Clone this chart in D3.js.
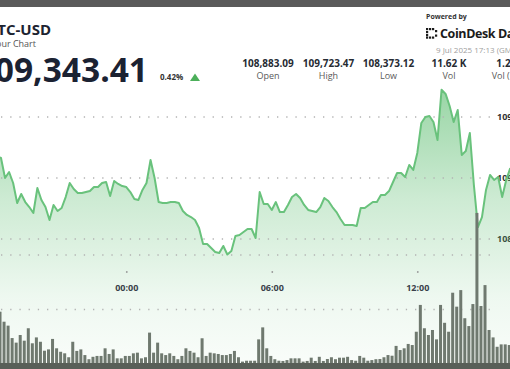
<!DOCTYPE html>
<html><head><meta charset="utf-8">
<script src="https://cdn.jsdelivr.net/npm/d3@7"></script>
<style>
body{margin:0;background:#fff;}
svg{display:block;font-family:'Open Sans',sans-serif;}
</style>
</head><body>
<svg id="c" width="510" height="369"></svg>
<script>
// ---------- data ----------
const startTime = Date.UTC(2025, 6, 8, 18, 40); // first sample (10-minute steps)
const stepMinutes = 10;
const prices = [
  109180,
  109164,109000,109049,108959,108795,108869,108803,108762,108713,108918,
  108820,108762,108656,108779,108730,108754,108844,108959,108910,108877,
  108877,108885,108893,108926,108926,108959,108967,108852,108975,108951,
  108934,108926,108885,108828,108820,108902,108959,109148,109000,108803,
  108795,108795,108803,108803,108795,108730,108697,108680,108656,108590,
  108459,108459,108426,108393,108385,108443,108373,108402,108525,108533,
  108557,108582,108582,108508,108885,108787,108787,108738,108803,108721,
  108721,108779,108844,108869,108836,108779,108738,108730,108721,108762,
  108836,108811,108762,108721,108664,108615,108615,108615,108607,108754,
  108754,108779,108803,108803,108861,108861,108893,108967,109041,109041,
  109008,109107,109066,109205,109451,109500,109508,109459,109311,109723,
  109689,109590,109459,109557,109189,109221,109369,108943,108598,108680,
  108902,109025,108984,109008,108844,108984,109082
];
const volumes = [
  210,
  240,194,176,119,98,133,107,164,95,122,
  102,61,67,115,72,56,49,31,102,60,
  67,41,22,33,37,37,72,46,67,26,
  26,37,37,49,52,26,31,144,52,98,
  49,41,49,37,22,37,72,60,52,31,
  118,37,52,49,46,41,41,46,60,31,
  11,15,15,15,113,168,72,37,22,15,
  14,18,26,26,26,11,14,29,14,33,
  14,23,31,22,29,29,33,18,15,37,
  29,15,18,22,23,31,41,38,83,64,
  72,92,87,148,271,164,133,156,113,271,
  189,148,327,263,339,210,174,275,693,266,
  362,156,122,79,90,90,87
];
const priceTicks = [108500, 109000, 109500];
const volumeTicks = [250, 500];
const timeTicks = ["2025-07-09T00:00:00Z", "2025-07-09T06:00:00Z", "2025-07-09T12:00:00Z"];
const statValues = ["108,883.09", "109,723.47", "108,373.12", "11.62 K", "1.27 B"];
const statLabels = ["Open", "High", "Low", "Vol", "Vol (USD)"];
const symbol = "BTC-USD";
const subtitle = "24 Hour Chart";
const lastPrice = "109,343.41";
const changePct = "0.42%";
const stamp = "9 Jul 2025 17:13 (GMT)";

// ---------- setup ----------
const svg = d3.select("#c");
const W = 510, H = 369;
const rows = prices.map((p, i) => ({
  t: new Date(startTime + i * stepMinutes * 60000), p, v: volumes[i]
}));

const x = d3.scaleUtc()
  .domain([new Date(timeTicks[0]), new Date(timeTicks[2])])
  .range([126.3, 417.3]);
const y = d3.scaleLinear().domain([108500, 109500]).range([239, 117]);
const yv = d3.scaleLinear().domain([0, 500]).range([364, 255]);

const defs = svg.append("defs");
const grad = defs.append("linearGradient").attr("id", "ag")
  .attr("gradientUnits", "userSpaceOnUse").attr("x1", 0).attr("x2", 0).attr("y1", 85).attr("y2", 369);
[[0, 0.62], [0.4, 0.3], [0.75, 0.1], [1, 0.03]].forEach(([o, a]) =>
  grad.append("stop").attr("offset", o).attr("stop-color", "#58bb6c").attr("stop-opacity", a));

// top band
svg.append("rect").attr("x", 0).attr("y", 0).attr("width", W).attr("height", 7).attr("fill", "#5a5a5a");

// header
svg.append("text").attr("x", 51).attr("y", 35).attr("text-anchor", "end")
  .attr("font-size", 15).attr("font-weight", 700).attr("fill", "#1d2330").text(symbol);
svg.append("text").attr("x", 36).attr("y", 46.5).attr("text-anchor", "end")
  .attr("font-size", 9).attr("fill", "#555").text(subtitle);
svg.append("text").attr("x", 148).attr("y", 81.5).attr("text-anchor", "end")
  .attr("font-size", 33.5).attr("font-weight", 700).attr("fill", "#1b2232").text(lastPrice);
svg.append("text").attr("x", 160).attr("y", 80).attr("font-size", 8)
  .attr("font-weight", 700).attr("fill", "#333").text(changePct);
svg.append("path").attr("d", "M190,81 L195,73.5 L200,81 Z").attr("fill", "#4caf5a");

const statX = [268, 328.5, 388.5, 449, 511];
statValues.forEach((s, i) => {
  svg.append("text").attr("x", statX[i]).attr("y", 66.5).attr("text-anchor", "middle")
    .attr("font-size", 10).attr("font-weight", 700).attr("fill", "#262b33").text(s);
  svg.append("text").attr("x", statX[i]).attr("y", 79).attr("text-anchor", "middle")
    .attr("font-size", 9).attr("fill", "#5a5a5a").text(statLabels[i]);
});

svg.append("text").attr("x", 426).attr("y", 19).attr("font-size", 7)
  .attr("font-weight", 700).attr("fill", "#333").text("Powered by");
// CoinDesk icon
const ic = svg.append("g").attr("fill", "#1b1b1b");
[[426,28],[426,31],[426,34],[426,36.5],[429,28],[432,28],[429,36.5],[432,36.5],[435,30],[435,34.5]]
  .forEach(([a, b]) => ic.append("rect").attr("x", a).attr("y", b).attr("width", 2.2).attr("height", 2.2));
svg.append("text").attr("x", 440).attr("y", 37.5).attr("font-size", 12.5)
  .attr("font-weight", 700).attr("letter-spacing", -0.4).attr("fill", "#1b1b1b").text("CoinDesk Data");
svg.append("text").attr("x", 436).attr("y", 53).attr("font-size", 8)
  .attr("fill", "#a0a0a0").text(stamp);

// right axis labels (under the area)
const yAxis = svg.append("g").attr("transform", "translate(492,0)")
  .call(d3.axisRight(y).tickValues(priceTicks).tickFormat(d3.format(",.2f")).tickSize(0).tickPadding(5));
yAxis.select(".domain").remove();
yAxis.selectAll("text").attr("font-size", 9).attr("font-weight", 700).attr("fill", "#333")
  .attr("font-family", "'Open Sans',sans-serif");

// area + line
svg.append("path").datum(rows)
  .attr("d", d3.area().x(d => x(d.t)).y0(H).y1(d => y(d.p)))
  .attr("fill", "url(#ag)");

// dotted gridlines
const gl = svg.append("g").attr("stroke", "#b3b3b3").attr("stroke-width", 1.3)
  .attr("stroke-dasharray", "1.3,7.9").attr("stroke-linecap", "butt");
priceTicks.forEach(v => gl.append("line").attr("x1", 1).attr("x2", 490).attr("y1", y(v)).attr("y2", y(v)));
volumeTicks.forEach(v => gl.append("line").attr("x1", 1).attr("x2", 490).attr("y1", yv(v)).attr("y2", yv(v)));

svg.append("path").datum(rows)
  .attr("d", d3.line().x(d => x(d.t)).y(d => y(d.p)))
  .attr("fill", "none").attr("stroke", "#69c27c").attr("stroke-width", 2)
  .attr("stroke-linejoin", "round");

// x axis
const xAxis = svg.append("g").attr("transform", "translate(0,272)")
  .call(d3.axisBottom(x).tickValues(timeTicks.map(s => new Date(s)))
    .tickFormat(d3.utcFormat("%H:%M")).tickSize(0).tickPadding(13));
xAxis.select(".domain").remove();
xAxis.selectAll(".tick").append("circle").attr("r", 0.9).attr("fill", "#999");
xAxis.selectAll("text").attr("font-size", 9).attr("font-weight", 700).attr("fill", "#3a3f4a")
  .attr("font-family", "'Open Sans',sans-serif");

// volume bars
svg.append("g").selectAll("rect").data(rows).join("rect")
  .attr("x", d => x(d.t) - 2.5).attr("width", 3)
  .attr("y", d => yv(d.v)).attr("height", d => H - yv(d.v))
  .attr("fill", "#6f796f");
svg.append("rect").attr("x", 0).attr("y", 363).attr("width", W).attr("height", 6).attr("fill", "#585f58");
</script>
</body></html>
